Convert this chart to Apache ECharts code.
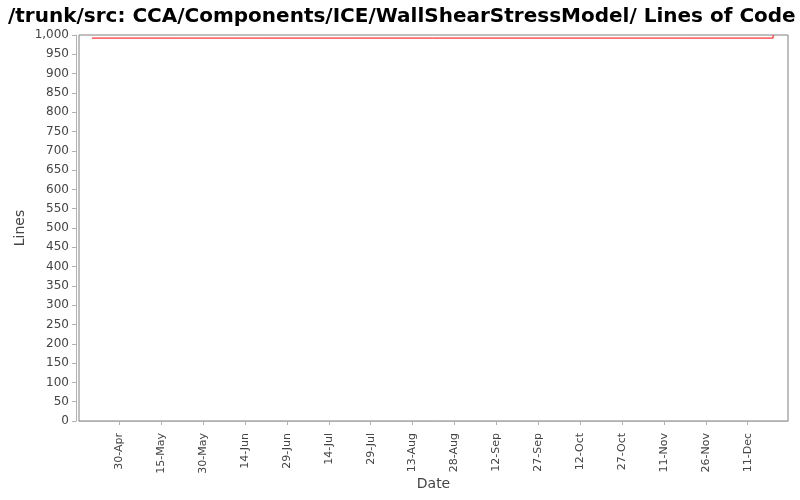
<!DOCTYPE html>
<html>
<head>
<meta charset="utf-8">
<script src="https://cdn.jsdelivr.net/npm/echarts@6/dist/echarts.min.js"></script>
<style>html,body{margin:0;padding:0;background:#fff;}#c{width:800px;height:500px;}</style>
</head>
<body>
<div id="c"></div>
<script>
var titleText = '/trunk/src: CCA/Components/ICE/WallShearStressModel/ Lines of Code';
var dates = ['2006-04-20T05:00:00', '2006-12-20T02:00:00'];
var lines = [992, 1000];
var tickDates = ['2006-04-30', '2006-05-15', '2006-05-30', '2006-06-14', '2006-06-29', '2006-07-14', '2006-07-29', '2006-08-13', '2006-08-28', '2006-09-12', '2006-09-27', '2006-10-12', '2006-10-27', '2006-11-11', '2006-11-26', '2006-12-11'];
var tickLabels = ['30-Apr', '15-May', '30-May', '14-Jun', '29-Jun', '14-Jul', '29-Jul', '13-Aug', '28-Aug', '12-Sep', '27-Sep', '12-Oct', '27-Oct', '11-Nov', '26-Nov', '11-Dec'];
var xMin = '2006-04-15T14:00:00';
var xMax = '2006-12-25T10:00:00';

function ts(s) { return new Date(s + 'Z').getTime(); }
var tickTs = tickDates.map(function (d) { return ts(d + 'T00:00:00'); });
var labelMap = {};
tickTs.forEach(function (t, i) { labelMap[t] = tickLabels[i]; });

var chart = echarts.init(document.getElementById('c'), null, { renderer: 'canvas' });
var font = 'DejaVu Sans';
chart.setOption({
  animation: false,
  backgroundColor: '#ffffff',
  title: {
    text: titleText,
    left: 3,
    top: 2,
    textStyle: { fontFamily: font, fontWeight: 'bold', fontSize: 20, color: '#000000' }
  },
  grid: {
    left: 79, right: 12, top: 35, bottom: 79,
    show: true, borderColor: '#808080', borderWidth: 1, backgroundColor: '#ffffff'
  },
  xAxis: {
    type: 'value',
    min: ts(xMin),
    max: ts(xMax),
    offset: 4,
    name: 'Date',
    nameLocation: 'middle',
    nameGap: 52,
    nameMoveOverlap: false,
    nameTextStyle: { fontFamily: font, fontSize: 14, color: '#444444' },
    axisLine: { show: true, lineStyle: { color: '#b0b0b0', width: 1 } },
    axisTick: { show: true, length: 4, lineStyle: { color: '#b0b0b0' }, customValues: tickTs },
    axisLabel: {
      rotate: 90, margin: 8,
      fontFamily: font, fontSize: 11, color: '#444444',
      customValues: tickTs,
      formatter: function (v) { return labelMap[v] || ''; }
    },
    splitLine: { show: false }
  },
  yAxis: {
    type: 'value',
    min: 0, max: 1000, interval: 50,
    offset: 3,
    name: 'Lines',
    nameLocation: 'middle',
    nameGap: 49,
    nameMoveOverlap: false,
    nameTextStyle: { fontFamily: font, fontSize: 14, color: '#444444' },
    axisLine: { show: true, lineStyle: { color: '#b0b0b0', width: 1 } },
    axisTick: { show: true, length: 4, lineStyle: { color: '#b0b0b0' } },
    axisLabel: {
      margin: 7, fontFamily: font, fontSize: 12, color: '#444444',
      formatter: function (v) { return v.toLocaleString('en-US'); }
    },
    splitLine: { show: false }
  },
  series: [{
    type: 'line',
    step: 'end',
    showSymbol: false,
    data: dates.map(function (d, i) { return [ts(d), lines[i]]; }),
    lineStyle: { color: '#ff0000', width: 1 },
    itemStyle: { color: '#ff0000' }
  }]
});
</script>
</body>
</html>
